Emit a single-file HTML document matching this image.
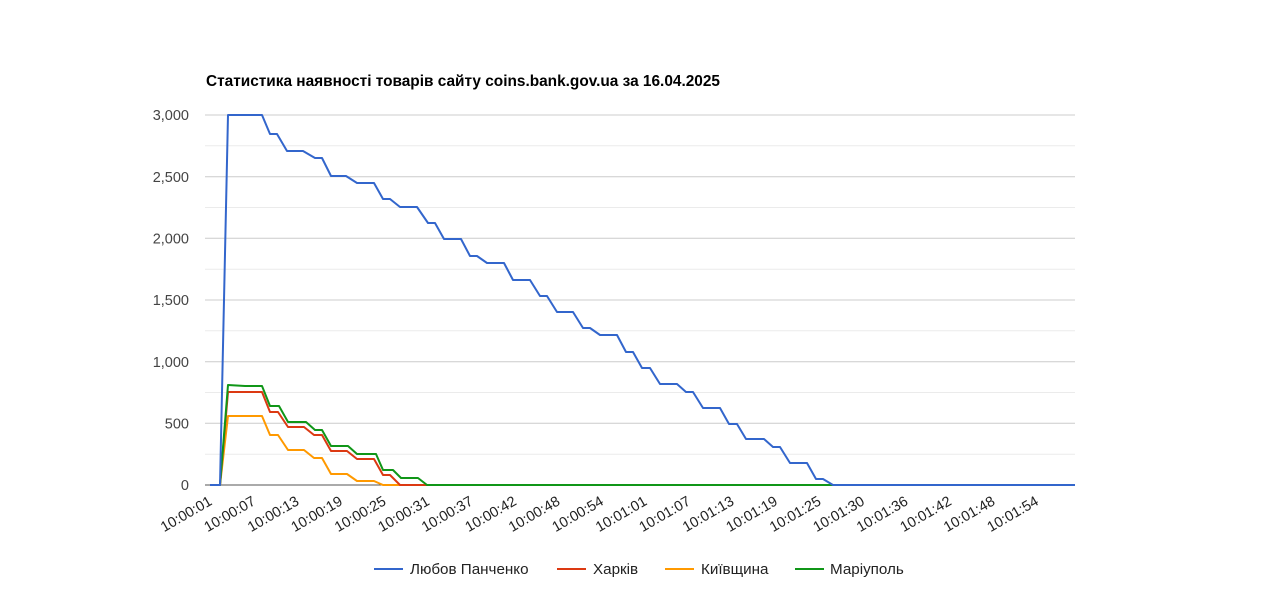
<!DOCTYPE html>
<html><head><meta charset="utf-8"><style>
html,body{margin:0;padding:0;background:#fff;}
svg{display:block;font-family:"Liberation Sans",Arial,sans-serif;}
</style></head><body>
<svg width="1280" height="600" viewBox="0 0 1280 600">
<text x="206" y="86" font-size="15.4" font-weight="bold" fill="#000">Статистика наявності товарів сайту coins.bank.gov.ua за 16.04.2025</text>
<g stroke-width="1">
<line x1="205" x2="1075" y1="454.2" y2="454.2" stroke="#ebebeb"/>
<line x1="205" x2="1075" y1="392.5" y2="392.5" stroke="#ebebeb"/>
<line x1="205" x2="1075" y1="330.8" y2="330.8" stroke="#ebebeb"/>
<line x1="205" x2="1075" y1="269.2" y2="269.2" stroke="#ebebeb"/>
<line x1="205" x2="1075" y1="207.5" y2="207.5" stroke="#ebebeb"/>
<line x1="205" x2="1075" y1="145.8" y2="145.8" stroke="#ebebeb"/>
<line x1="205" x2="1075" y1="423.3" y2="423.3" stroke="#ccc"/>
<line x1="205" x2="1075" y1="361.7" y2="361.7" stroke="#ccc"/>
<line x1="205" x2="1075" y1="300" y2="300" stroke="#ccc"/>
<line x1="205" x2="1075" y1="238.3" y2="238.3" stroke="#ccc"/>
<line x1="205" x2="1075" y1="176.7" y2="176.7" stroke="#ccc"/>
<line x1="205" x2="1075" y1="115" y2="115" stroke="#ccc"/>
</g>
<g font-size="14.5" fill="#444" text-anchor="end">
<text x="189" y="490">0</text>
<text x="189" y="428.5">500</text>
<text x="189" y="367">1,000</text>
<text x="189" y="305">1,500</text>
<text x="189" y="243.5">2,000</text>
<text x="189" y="182">2,500</text>
<text x="189" y="120">3,000</text>
</g>
<line x1="205" x2="1075" y1="485" y2="485" stroke="#555" stroke-width="1"/>
<g fill="none" stroke-width="2" stroke-linejoin="round">
<polyline stroke="#ff9900" points="210,485 220,485 228,416 262,416 270,435 278,435 288,450 304,450 314,458 322,458 331,474 347,474 357,481 374,481 383,485 1075,485"/>
<polyline stroke="#dc3912" points="210,485 220,485 228,392 262,392 270,412 278,412 288,427 304,427 314,435 322,435 331,451 347,451 357,459 374,459 383,475 390,475 400,485 1075,485"/>
<polyline stroke="#109618" points="210,485 220,485 228,385 245,386 262,386 270,406 279,406 288,422 306,422 315,430 322,430 331,446 348,446 357,454 376,454 383,470 393,470 401,478 418,478 427,485 1075,485"/>
<polyline stroke="#3366cc" points="210,485 220,485 228,115 262,115 270,134 277,134 287,151 303,151 315,158 322,158 331,176 346,176 357,183 374,183 383,199 390,199 400,207 417,207 428,223 435,223 444,239 461,239 470,256 477,256 487,263 504,263 513,280 530,280 540,296 547,296 557,312 573,312 583,328 590,328 600,335 617,335 626,352 633,352 642,368 650,368 660,384 677,384 686,392 693,392 703,408 720,408 729,424 737,424 746,439 764,439 773,447 780,447 790,463 807,463 816,479 823,479 833,485 1075,485"/>
</g>
<g font-size="14.5" fill="#222" text-anchor="end">
<text transform="translate(213,504) rotate(-30)">10:00:01</text>
<text transform="translate(256.5,504) rotate(-30)">10:00:07</text>
<text transform="translate(300,504) rotate(-30)">10:00:13</text>
<text transform="translate(343.5,504) rotate(-30)">10:00:19</text>
<text transform="translate(387,504) rotate(-30)">10:00:25</text>
<text transform="translate(430.5,504) rotate(-30)">10:00:31</text>
<text transform="translate(474,504) rotate(-30)">10:00:37</text>
<text transform="translate(517.5,504) rotate(-30)">10:00:42</text>
<text transform="translate(561,504) rotate(-30)">10:00:48</text>
<text transform="translate(604.5,504) rotate(-30)">10:00:54</text>
<text transform="translate(648,504) rotate(-30)">10:01:01</text>
<text transform="translate(691.5,504) rotate(-30)">10:01:07</text>
<text transform="translate(735,504) rotate(-30)">10:01:13</text>
<text transform="translate(778.5,504) rotate(-30)">10:01:19</text>
<text transform="translate(822,504) rotate(-30)">10:01:25</text>
<text transform="translate(865.5,504) rotate(-30)">10:01:30</text>
<text transform="translate(909,504) rotate(-30)">10:01:36</text>
<text transform="translate(952.5,504) rotate(-30)">10:01:42</text>
<text transform="translate(996,504) rotate(-30)">10:01:48</text>
<text transform="translate(1039.5,504) rotate(-30)">10:01:54</text>
</g>
<g stroke-width="2">
<line x1="374" x2="403" y1="569" y2="569" stroke="#3366cc"/>
<line x1="557" x2="586" y1="569" y2="569" stroke="#dc3912"/>
<line x1="665" x2="694" y1="569" y2="569" stroke="#ff9900"/>
<line x1="795" x2="824" y1="569" y2="569" stroke="#109618"/>
</g>
<g font-size="15.2" fill="#222">
<text x="410" y="574">Любов Панченко</text>
<text x="593" y="574">Харків</text>
<text x="701" y="574">Київщина</text>
<text x="830" y="574">Маріуполь</text>
</g>
</svg>
</body></html>
